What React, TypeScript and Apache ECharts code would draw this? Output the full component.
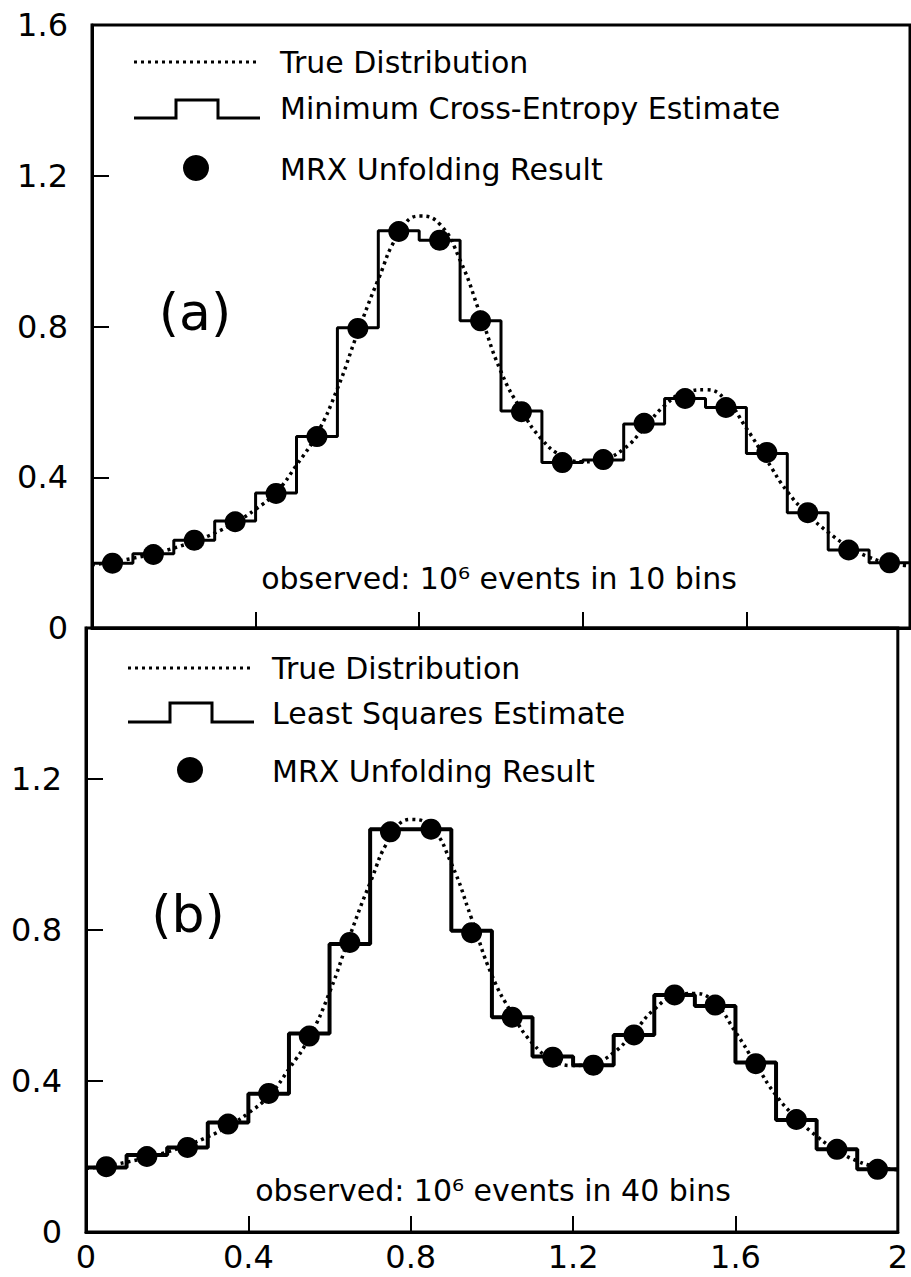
import React, { useEffect, useRef } from "react";
import * as echarts from "echarts";

// ---- data ----
const trueX = [0, 0.05, 0.1, 0.15, 0.2, 0.25, 0.3, 0.35, 0.4, 0.45, 0.5, 0.55, 0.6, 0.65, 0.7, 0.75, 0.8, 0.85, 0.9, 0.95, 1.0,
  1.05, 1.1, 1.15, 1.2, 1.25, 1.3, 1.35, 1.4, 1.45, 1.5, 1.55, 1.6, 1.65, 1.7, 1.75, 1.8, 1.85, 1.9, 1.95, 2.0];
const trueY = [0.168, 0.175, 0.185, 0.197, 0.212, 0.23, 0.252, 0.28, 0.315, 0.36, 0.432, 0.515, 0.635, 0.785, 0.925, 1.045, 1.093, 1.072, 0.976, 0.83, 0.68,
  0.578, 0.5, 0.456, 0.441, 0.448, 0.475, 0.53, 0.59, 0.625, 0.632, 0.605, 0.53, 0.445, 0.362, 0.302, 0.254, 0.216, 0.188, 0.172, 0.165];

const binEdges = [0, 0.1, 0.2, 0.3, 0.4, 0.5, 0.6, 0.7, 0.8, 0.9, 1.0, 1.1, 1.2, 1.3, 1.4, 1.5, 1.6, 1.7, 1.8, 1.9, 2.0];
const binCenters = [0.05, 0.15, 0.25, 0.35, 0.45, 0.55, 0.65, 0.75, 0.85, 0.95, 1.05, 1.15, 1.25, 1.35, 1.45, 1.55, 1.65, 1.75, 1.85, 1.95];

// (a) minimum cross-entropy estimate and MRX result
const stepA = [0.172, 0.197, 0.233, 0.284, 0.358, 0.508, 0.797, 1.054, 1.029, 0.815, 0.576, 0.439, 0.446, 0.541, 0.609, 0.585, 0.463, 0.306, 0.207, 0.173];
const dotsA = [0.172, 0.195, 0.233, 0.282, 0.357, 0.508, 0.795, 1.052, 1.029, 0.815, 0.574, 0.439, 0.447, 0.543, 0.609, 0.585, 0.466, 0.306, 0.207, 0.173];

// (b) least squares estimate and MRX result
const stepB = [0.171, 0.204, 0.224, 0.29, 0.366, 0.526, 0.763, 1.067, 1.067, 0.798, 0.569, 0.465, 0.442, 0.522, 0.628, 0.599, 0.449, 0.297, 0.219, 0.166];
const dotsB = [0.173, 0.2, 0.224, 0.286, 0.367, 0.519, 0.767, 1.06, 1.067, 0.793, 0.569, 0.463, 0.442, 0.522, 0.628, 0.601, 0.446, 0.298, 0.219, 0.166];

const xTicks = [0, 0.4, 0.8, 1.2, 1.6, 2];
const yTicks = [0, 0.4, 0.8, 1.2, 1.6];

const legendA = ["True Distribution", "Minimum Cross-Entropy Estimate", "MRX Unfolding Result"];
const legendB = ["True Distribution", "Least Squares Estimate", "MRX Unfolding Result"];
const noteA = "observed: 10\u2076 events in 10 bins";
const noteB = "observed: 10\u2076 events in 40 bins";

const FONT = "DejaVu Sans";

function stepData(vals: number[]) {
  return binEdges.map((x, i) => [x, vals[Math.min(i, vals.length - 1)]]);
}

function legendGraphics(x0: number, yTrue: number, yStepLow: number, yStepHigh: number, yStepText: number, yDot: number, textX: number, labels: string[], w: number) {
  const xEnd = x0 + 126;
  const up = x0 + 42;
  const down = x0 + 84;
  return [
    { type: "line", shape: { x1: x0, y1: yTrue, x2: xEnd, y2: yTrue }, style: { stroke: "#000", lineWidth: 3, lineDash: [3, 4] } },
    { type: "text", x: textX, y: yTrue, style: { text: labels[0], font: `30px "${FONT}"`, fill: "#000", verticalAlign: "middle" } },
    { type: "polyline", shape: { points: [[x0, yStepLow], [up, yStepLow], [up, yStepHigh], [down, yStepHigh], [down, yStepLow], [xEnd, yStepLow]] }, style: { stroke: "#000", lineWidth: w, fill: "none" } },
    { type: "text", x: textX, y: yStepText, style: { text: labels[1], font: `30px "${FONT}"`, fill: "#000", verticalAlign: "middle" } },
    { type: "circle", shape: { cx: x0 + 62, cy: yDot, r: 13 }, style: { fill: "#000" } },
    { type: "text", x: textX, y: yDot + 1, style: { text: labels[2], font: `30px "${FONT}"`, fill: "#000", verticalAlign: "middle" } },
  ];
}

export default function App() {
  const ref = useRef<HTMLDivElement>(null);
  useEffect(() => {
    if (!ref.current) return;
    const chart = echarts.init(ref.current, undefined, { renderer: "svg" });
    const trueData = trueX.map((x, i) => [x, trueY[i]]);
    const axisLabelStyle = { fontFamily: FONT, fontSize: 32, color: "#000" };
    const mkX = (gi: number, showLabel: boolean) => ({
      type: "value", gridIndex: gi, min: 0, max: 2, interval: 0.4,
      axisLine: { show: true, onZero: false, lineStyle: { color: "#000", width: 3 } },
      axisTick: { show: true, inside: true, length: 16, lineStyle: { color: "#000", width: 2 } },
      splitLine: { show: false },
      axisLabel: { show: showLabel, margin: 9, ...axisLabelStyle, formatter: (v: number) => (xTicks.includes(Math.round(v * 10) / 10) ? String(Math.round(v * 10) / 10) : "") },
    });
    const mkY = (gi: number, showMax: boolean) => ({
      type: "value", gridIndex: gi, min: 0, max: 1.6, interval: 0.4,
      axisLine: { show: true, onZero: false, lineStyle: { color: "#000", width: 3 } },
      axisTick: { show: true, inside: true, length: 17, lineStyle: { color: "#000", width: 2 } },
      splitLine: { show: false },
      axisLabel: { show: true, margin: 24, showMaxLabel: showMax, ...axisLabelStyle, formatter: (v: number) => (yTicks.includes(Math.round(v * 10) / 10) ? String(Math.round(v * 10) / 10) : "") },
    });
    const curve = (gi: number) => ({
      type: "line", xAxisIndex: gi, yAxisIndex: gi, data: trueData, smooth: true, symbol: "none", z: 2,
      lineStyle: { color: "#000", width: 3.5, type: [3, 4] },
    });
    const steps = (gi: number, vals: number[], w: number) => ({
      type: "line", xAxisIndex: gi, yAxisIndex: gi, data: stepData(vals), step: "end", symbol: "none", z: 3,
      lineStyle: { color: "#000", width: w },
    });
    const dots = (gi: number, vals: number[]) => ({
      type: "scatter", xAxisIndex: gi, yAxisIndex: gi, data: binCenters.map((x, i) => [x, vals[i]]), symbol: "circle", symbolSize: 21, z: 4,
      itemStyle: { color: "#000", opacity: 1 },
    });
    chart.setOption({
      animation: false,
      backgroundColor: "#fff",
      grid: [
        { left: 92, top: 25, width: 818, height: 603, show: true, borderColor: "#000", borderWidth: 3, backgroundColor: "transparent" },
        { left: 86, top: 628, width: 820, height: 604, show: true, borderColor: "#000", borderWidth: 3, backgroundColor: "transparent" },
      ],
      xAxis: [mkX(0, false), mkX(1, true)],
      yAxis: [mkY(0, true), mkY(1, false)],
      series: [curve(0), steps(0, stepA, 3), dots(0, dotsA), curve(1), steps(1, stepB, 4), dots(1, dotsB)],
      graphic: [
        ...legendGraphics(134, 62, 118, 100, 108, 168, 280, legendA, 3),
        ...legendGraphics(128, 668, 722, 703, 713, 770, 272, legendB, 3),
        { type: "text", x: 195, y: 312, style: { text: "(a)", font: `52px "${FONT}"`, fill: "#000", align: "center", verticalAlign: "middle" } },
        { type: "text", x: 188, y: 914, style: { text: "(b)", font: `52px "${FONT}"`, fill: "#000", align: "center", verticalAlign: "middle" } },
        { type: "text", x: 499, y: 578, style: { text: noteA, font: `30px "${FONT}"`, fill: "#000", align: "center", verticalAlign: "middle" } },
        { type: "text", x: 493, y: 1190, style: { text: noteB, font: `30px "${FONT}"`, fill: "#000", align: "center", verticalAlign: "middle" } },
      ],
    });
    return () => chart.dispose();
  }, []);
  return <div ref={ref} style={{ position: "absolute", left: 0, top: 0, width: 911, height: 1277 }} />;
}
